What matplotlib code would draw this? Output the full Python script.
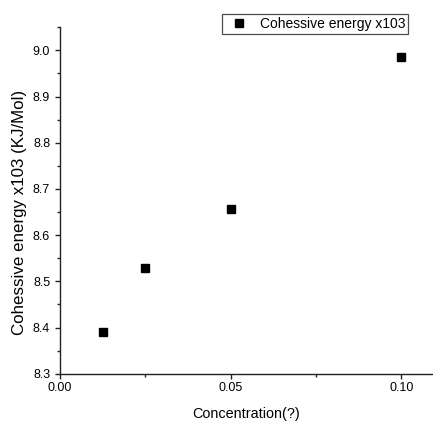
import numpy as np
import matplotlib
matplotlib.use('Agg')
import matplotlib.pyplot as plt
from matplotlib.ticker import MultipleLocator, FixedLocator
from matplotlib import rcParams
rcParams['font.family'] = ['Liberation Sans', 'DejaVu Sans']
rcParams['xtick.labelsize'] = 9
rcParams['ytick.labelsize'] = 9

# cohesive energy vs concentration
conc = [0.0125, 0.025, 0.05, 0.10]
energy = [8.390, 8.528, 8.657, 8.985]

xticks = [0.00, 0.05, 0.10]
xticklabels = ['0.00', '0.05', '0.10']
yticks = [8.3, 8.4, 8.5, 8.6, 8.7, 8.8, 8.9, 9.0]
yticklabels = ['8.3', '8.4', '8.5', '8.6', '8.7', '8.8', '8.9', '9.0']

fig = plt.figure(figsize=(4.33, 4.25), dpi=100)
ax = fig.add_axes([0.1386, 0.1207, 0.8591, 0.8151])

ax.plot(conc, energy, ls='none', marker='s', ms=5.2, color='k',
        label='Cohessive energy x103')

ax.set_xlim(0, 0.109)
ax.set_ylim(8.3, 9.05)

for side in ['top', 'right']:
    ax.spines[side].set_visible(False)
for side in ['left', 'bottom']:
    ax.spines[side].set_color('#222222')
    ax.spines[side].set_linewidth(1.0)

ax.xaxis.set_minor_locator(FixedLocator([0.025, 0.075]))
ax.yaxis.set_minor_locator(MultipleLocator(0.05))
ax.tick_params(which='major', direction='out', length=3.6, width=1,
               color='#222222', labelsize=9)
ax.tick_params(which='minor', direction='out', length=2.2, width=1,
               color='#222222')
ax.tick_params(axis='x', which='major', pad=2.5)
ax.tick_params(axis='y', which='major', pad=3.5)
ax.set_xticks(xticks, xticklabels)
ax.set_yticks(yticks, yticklabels)

ax.set_xlabel('Concentration(?)', fontsize=10.4)
ax.set_ylabel('Cohessive energy x103 (KJ/Mol)', fontsize=12.2)
ax.xaxis.set_label_coords(0.5, -0.095)
ax.yaxis.set_label_coords(-0.09, 0.465)

leg = ax.legend(loc='upper left', bbox_to_anchor=(222 / 433, 1 - 14 / 425),
                bbox_transform=fig.transFigure, borderaxespad=0,
                fontsize=10, frameon=True, fancybox=False, borderpad=0.2,
                handlelength=2.0, handletextpad=0.5, numpoints=1)
leg.get_frame().set_edgecolor('#222222')
leg.get_frame().set_linewidth(0.9)

fig.savefig('out.png', dpi=100)
